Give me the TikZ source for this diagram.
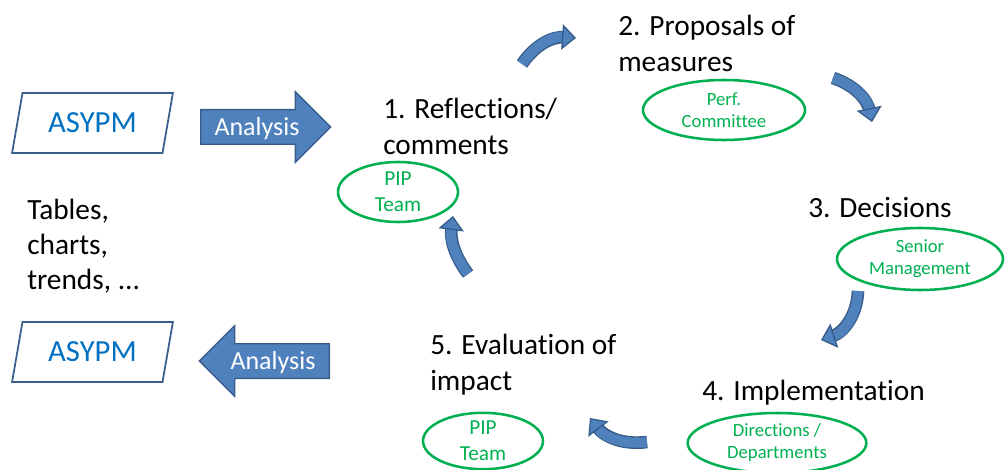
\documentclass[tikz,border=0pt]{standalone}
\usepackage{fontspec}
\setmainfont[Ligatures=NoCommon]{Carlito}
\usetikzlibrary{shapes.geometric,shapes.arrows,arrows.meta}
\definecolor{azulflecha}{HTML}{4F81BD}
\definecolor{bordeflecha}{HTML}{385D8A}
\definecolor{azultexto}{HTML}{0070C0}
\definecolor{verde}{HTML}{00B050}
\begin{document}
\begin{tikzpicture}[x=0.75pt,y=-0.75pt,
    paso/.style={align=left, inner sep=0pt, anchor=base west, font=\fontsize{22}{27}\selectfont},
    equipo/.style={ellipse, draw=verde, line width=1.9pt, text=verde, align=center, inner sep=0pt, font=\fontsize{14}{16.5}\selectfont},
    pip/.style={equipo, minimum width=90pt, font=\fontsize{16}{19.5}\selectfont},
    fuente/.style={trapezium, trapezium left angle=76, trapezium right angle=104, trapezium stretches=true,
        draw=bordeflecha, line width=1.3pt, minimum width=120.75pt, minimum height=45pt,
        text=azultexto, font=\fontsize{23}{25}\selectfont},
    analisis/.style={single arrow, single arrow head extend=13.5pt, single arrow tip angle=90,
        fill=azulflecha, draw=bordeflecha, line width=1pt, text=white, minimum height=97.5pt,
        text height=18.8pt, text depth=6.2pt, inner ysep=0pt, inner xsep=3pt, font=\fontsize{19.5}{22}\selectfont},
    ciclo/.style={line width=7.5pt, draw=azulflecha,
        -{Triangle[width=19pt,length=10.5pt,fill=azulflecha,color=bordeflecha,line width=1pt]},
        preaction={draw=bordeflecha, line width=9.5pt, arrows=-, shorten >=8.5pt}}
  ]

  % Marco
  \useasboundingbox (0,0) rectangle (1006,470);

  % Fuentes de datos
  \node[fuente] (asypm1) at (92.5,123) {ASYPM};
  \node[fuente] (asypm2) at (92.5,352) {ASYPM};
  \node[paso, font=\fontsize{22}{26.25}\selectfont] (datos) at (27,290) {Tables,\\charts,\\trends, ...};

  % Flechas de analisis
  \node[analisis, anchor=tail] (analisis1) at (200,127) {Analysis};
  \node[analisis, shape border rotate=180, anchor=tail] (analisis2) at (330,361) {Analysis};

  % Pasos del ciclo (base = ultima linea)
  \node[paso] (paso1) at (383,155) {1. Reflections/\\comments};
  \node[paso] (paso2) at (618,72) {2. Proposals of\\measures};
  \node[paso] (paso3) at (808,218) {3. Decisions};
  \node[paso] (paso4) at (702,400) {4. Implementation};
  \node[paso] (paso5) at (430,390) {5. Evaluation of\\impact};

  % Responsables
  \node[pip, minimum height=45pt] (pip1) at (398,192) {PIP\\Team};
  \node[equipo, minimum width=121.5pt, minimum height=45pt] (comite) at (724,110) {Perf.\\Committee};
  \node[equipo, minimum width=124.5pt, minimum height=46.5pt] (gerencia) at (920,259) {Senior\\Management};
  \node[equipo, minimum width=134pt, minimum height=45pt] (direcciones) at (777,443) {Directions /\\Departments};
  \node[pip, minimum height=40.5pt] (pip2) at (483,441) {PIP\\Team};

  % Extremos de las flechas curvas
  \coordinate (c1a) at (522,64);  \coordinate (c1b) at (576,38);
  \coordinate (c2a) at (833,78);  \coordinate (c2b) at (872,122);
  \coordinate (c3a) at (858,291); \coordinate (c3b) at (821,340);
  \coordinate (c4a) at (647,442); \coordinate (c4b) at (590,418);
  \coordinate (c5a) at (468,274); \coordinate (c5b) at (453,216);

  % Flechas curvas
  \foreach \a/\b/\c in {c1a/c1b/30, c2a/c2b/30, c3a/c3b/35, c4a/c4b/30, c5a/c5b/22}
    \draw[ciclo] (\a) to[bend left=\c] (\b);
\end{tikzpicture}
\end{document}
